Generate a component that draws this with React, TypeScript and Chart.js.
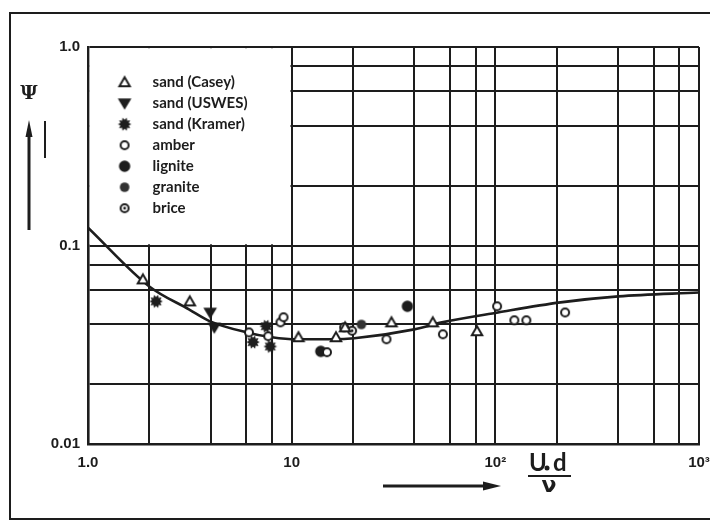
import React, { useEffect, useRef } from 'react';
import { Chart, registerables } from 'chart.js';

Chart.register(...registerables);

// ---------- data ----------
const xTickValues = [1, 2, 4, 6, 8, 10, 20, 40, 60, 80, 100, 200, 400, 600, 800, 1000];
const yTickValues = [0.01, 0.02, 0.04, 0.06, 0.08, 0.1, 0.2, 0.4, 0.6, 0.8, 1];
const xTickLabels: [number, string][] = [[1, '1.0'], [10, '10'], [100, '10²'], [1000, '10³']];
const yTickLabels: [number, string][] = [[0.01, '0.01'], [0.1, '0.1'], [1, '1.0']];

const seriesLabels = ['sand (Casey)', 'sand (USWES)', 'sand (Kramer)', 'amber', 'lignite', 'granite', 'brice'];

const curveX = [1, 2, 3.13, 3.98, 5.95, 8.0, 10.6, 16.1, 20.3, 40, 54.7, 103, 209, 402, 1000];
const curveY = [0.123, 0.0622, 0.0477, 0.0415, 0.0366, 0.0345, 0.0337, 0.0337, 0.0341, 0.0378, 0.041, 0.046, 0.0517, 0.0554, 0.058];

const caseyX = [1.86, 3.16, 10.8, 16.5, 18.3, 30.9, 49.3, 81.3];
const caseyY = [0.0675, 0.0523, 0.0345, 0.0345, 0.0387, 0.041, 0.041, 0.037];
const uswesX = [3.98, 4.17];
const uswesY = [0.046, 0.0387];
const kramerX = [2.16, 6.46, 7.5, 7.85];
const kramerY = [0.0523, 0.0326, 0.0392, 0.031];
const amberX = [6.17, 7.67, 8.81, 9.12, 14.9, 18.1, 29.2, 55.3, 102, 124, 142, 220];
const amberY = [0.0365, 0.0349, 0.041, 0.0435, 0.029, 0.0387, 0.0337, 0.0357, 0.0494, 0.042, 0.042, 0.046];
const ligniteX = [13.9, 37];
const ligniteY = [0.0293, 0.0494];
const graniteX = [22];
const graniteY = [0.04];
const briceX = [19.8];
const briceY = [0.0372];

// ---------- styling helpers ----------
const INK = '#1d1d1d';

function makeMarker(draw: (ctx: CanvasRenderingContext2D, c: number) => void): HTMLCanvasElement {
  const cv = document.createElement('canvas');
  cv.width = 16;
  cv.height = 16;
  const ctx = cv.getContext('2d')!;
  ctx.strokeStyle = INK;
  ctx.fillStyle = INK;
  draw(ctx, 8);
  return cv;
}

function buildMarkers() {
  const triUp = makeMarker((ctx, c) => {
    ctx.beginPath();
    ctx.moveTo(c, c - 5);
    ctx.lineTo(c + 5.2, c + 4);
    ctx.lineTo(c - 5.2, c + 4);
    ctx.closePath();
    ctx.fillStyle = '#fff';
    ctx.fill();
    ctx.lineWidth = 2;
    ctx.stroke();
  });
  const triDown = makeMarker((ctx, c) => {
    ctx.beginPath();
    ctx.moveTo(c, c + 5);
    ctx.lineTo(c + 5.5, c - 4);
    ctx.lineTo(c - 5.5, c - 4);
    ctx.closePath();
    ctx.fill();
    ctx.lineWidth = 1.5;
    ctx.stroke();
  });
  const burst = makeMarker((ctx, c) => {
    ctx.beginPath();
    const n = 10;
    for (let i = 0; i < n * 2; i++) {
      const r = i % 2 === 0 ? 6.8 : 4.4;
      const a = (Math.PI * i) / n;
      const px = c + r * Math.cos(a);
      const py = c + r * Math.sin(a);
      if (i === 0) ctx.moveTo(px, py);
      else ctx.lineTo(px, py);
    }
    ctx.closePath();
    ctx.fill();
  });
  const openCircle = makeMarker((ctx, c) => {
    ctx.beginPath();
    ctx.arc(c, c, 4, 0, Math.PI * 2);
    ctx.fillStyle = '#fff';
    ctx.fill();
    ctx.lineWidth = 2;
    ctx.stroke();
  });
  const bigDot = makeMarker((ctx, c) => {
    ctx.beginPath();
    ctx.arc(c, c, 5.7, 0, Math.PI * 2);
    ctx.fill();
  });
  const midDot = makeMarker((ctx, c) => {
    ctx.beginPath();
    ctx.arc(c, c, 4.8, 0, Math.PI * 2);
    ctx.fillStyle = '#333';
    ctx.fill();
  });
  const dotCircle = makeMarker((ctx, c) => {
    ctx.beginPath();
    ctx.arc(c, c, 4, 0, Math.PI * 2);
    ctx.fillStyle = '#fff';
    ctx.fill();
    ctx.lineWidth = 2;
    ctx.stroke();
    ctx.beginPath();
    ctx.arc(c, c, 1.4, 0, Math.PI * 2);
    ctx.fillStyle = INK;
    ctx.fill();
  });
  return [triUp, triDown, burst, openCircle, bigDot, midDot, dotCircle];
}

function pts(xs: number[], ys: number[]) {
  return xs.map((x, i) => ({ x, y: ys[i] }));
}

function findLabel(table: [number, string][], v: number): string {
  for (const [val, lab] of table) {
    if (Math.abs(Math.log10(v) - Math.log10(val)) < 1e-6) return lab;
  }
  return '';
}

const TICK_FONT = { family: '"Liberation Sans", Arial, sans-serif', size: 15, weight: 'bold' as const };

function makeDecorPlugin(markers: HTMLCanvasElement[]) {
  return {
    id: 'decor',
    beforeDatasetsDraw(chart: any) {
      const { ctx, scales } = chart;
      const xs = scales.x;
      const ys = scales.y;
      const l = xs.getPixelForValue(1) + 1.6;
      const r = xs.getPixelForValue(10) - 1.2;
      const t = ys.getPixelForValue(1) + 1.2;
      const b = ys.getPixelForValue(0.1) - 1.2;
      ctx.save();
      ctx.fillStyle = '#fff';
      ctx.fillRect(l, t, r - l, b - t);
      // legend
      const labels = chart.data.datasets.filter((d: any) => d.isSeries).map((d: any) => d.label);
      ctx.font = 'bold 15px Lato, "Open Sans", sans-serif';
      ctx.fillStyle = INK;
      ctx.textBaseline = 'middle';
      ctx.textAlign = 'left';
      const mx = l + 35;
      const tx = l + 63;
      const y0 = t + 34;
      const dy = 21;
      labels.forEach((lab: string, i: number) => {
        const m = markers[i];
        const yy = y0 + i * dy;
        if (m) ctx.drawImage(m, mx - m.width / 2, yy - m.height / 2);
        ctx.fillText(lab, tx, yy);
      });
      ctx.restore();
    },
    afterDraw(chart: any) {
      const { ctx } = chart;
      ctx.save();
      ctx.strokeStyle = INK;
      ctx.fillStyle = INK;
      // outer frame
      ctx.lineWidth = 2;
      ctx.strokeRect(10, 13, 760, 506);
      // y label
      ctx.font = 'bold 19px "DejaVu Serif", serif';
      ctx.textAlign = 'center';
      ctx.textBaseline = 'middle';
      ctx.fillText('Ψ', 29, 94);
      // y arrow
      ctx.lineWidth = 3;
      ctx.beginPath();
      ctx.moveTo(29, 230);
      ctx.lineTo(29, 132);
      ctx.stroke();
      ctx.beginPath();
      ctx.moveTo(29, 120);
      ctx.lineTo(25.5, 137);
      ctx.lineTo(32.5, 137);
      ctx.closePath();
      ctx.fill();
      ctx.lineWidth = 2;
      ctx.beginPath();
      ctx.moveTo(45, 121);
      ctx.lineTo(45, 158);
      ctx.stroke();
      // x title: U* d / nu
      ctx.font = 'bold 24px Lato, "Open Sans", sans-serif';
      ctx.textBaseline = 'alphabetic';
      ctx.textAlign = 'left';
      ctx.fillText('U', 529, 471);
      ctx.beginPath();
      ctx.arc(547, 468, 2.5, 0, Math.PI * 2);
      ctx.fill();
      ctx.fillText('d', 553, 471);
      ctx.lineWidth = 2;
      ctx.beginPath();
      ctx.moveTo(528, 476);
      ctx.lineTo(571, 476);
      ctx.stroke();
      ctx.textAlign = 'center';
      ctx.font = 'bold 22px "DejaVu Sans", sans-serif';
      ctx.fillText('ν', 549, 492);
      // x arrow
      ctx.lineWidth = 3;
      ctx.beginPath();
      ctx.moveTo(383, 486);
      ctx.lineTo(488, 486);
      ctx.stroke();
      ctx.beginPath();
      ctx.moveTo(501, 486);
      ctx.lineTo(483, 481.5);
      ctx.lineTo(483, 490.5);
      ctx.closePath();
      ctx.fill();
      ctx.restore();
    },
  };
}

export default function App() {
  const ref = useRef<HTMLCanvasElement | null>(null);

  useEffect(() => {
    if (!ref.current) return;
    const markers = buildMarkers();
    const seriesX = [caseyX, uswesX, kramerX, amberX, ligniteX, graniteX, briceX];
    const seriesY = [caseyY, uswesY, kramerY, amberY, ligniteY, graniteY, briceY];
    const seriesSets = seriesLabels.map((label, i) => ({
      label,
      isSeries: true,
      data: pts(seriesX[i], seriesY[i]),
      pointStyle: markers[i],
      pointRadius: 6,
      pointHoverRadius: 6,
      showLine: false,
      order: 0,
      borderColor: INK,
      backgroundColor: INK,
    }));
    const chart = new Chart(ref.current, {
      type: 'scatter',
      data: {
        datasets: [
          ...seriesSets,
          {
            label: 'curve',
            data: pts(curveX, curveY),
            showLine: true,
            pointRadius: 0,
            borderColor: INK,
            borderWidth: 2.6,
            cubicInterpolationMode: 'monotone',
            order: 10,
          } as any,
        ],
      },
      options: {
        animation: false,
        responsive: false,
        events: [],
        layout: { padding: { top: 47, right: 11, left: 0, bottom: 0 } },
        plugins: { legend: { display: false }, tooltip: { enabled: false } },
        scales: {
          x: {
            type: 'logarithmic',
            min: 1,
            max: 1000,
            afterBuildTicks: (s: any) => {
              s.ticks = xTickValues.map((v) => ({ value: v }));
            },
            afterFit: (s: any) => {
              s.height = 78;
              s.paddingRight = 0;
              s.paddingLeft = 0;
            },
            grid: { color: INK, lineWidth: 2, drawTicks: false },
            border: { color: INK, width: 2.6 },
            ticks: {
              autoSkip: false,
              maxRotation: 0,
              padding: 10,
              color: INK,
              font: TICK_FONT,
              callback: (v: any) => findLabel(xTickLabels, Number(v)),
            },
          },
          y: {
            type: 'logarithmic',
            min: 0.01,
            max: 1,
            afterBuildTicks: (s: any) => {
              s.ticks = yTickValues.map((v) => ({ value: v }));
            },
            afterFit: (s: any) => {
              s.width = 88;
              s.paddingTop = 0;
              s.paddingBottom = 0;
            },
            grid: { color: INK, lineWidth: 2, drawTicks: false },
            border: { color: INK, width: 2.6 },
            ticks: {
              autoSkip: false,
              padding: 8,
              color: INK,
              font: TICK_FONT,
              callback: (v: any) => findLabel(yTickLabels, Number(v)),
            },
          },
        },
      } as any,
      plugins: [makeDecorPlugin(markers)],
    });
    return () => chart.destroy();
  }, []);

  return (
    <div style={{ position: 'absolute', left: 0, top: 0, width: 710, height: 522, background: '#fff' }}>
      <canvas ref={ref} width={710} height={522} style={{ display: 'block' }} />
    </div>
  );
}
